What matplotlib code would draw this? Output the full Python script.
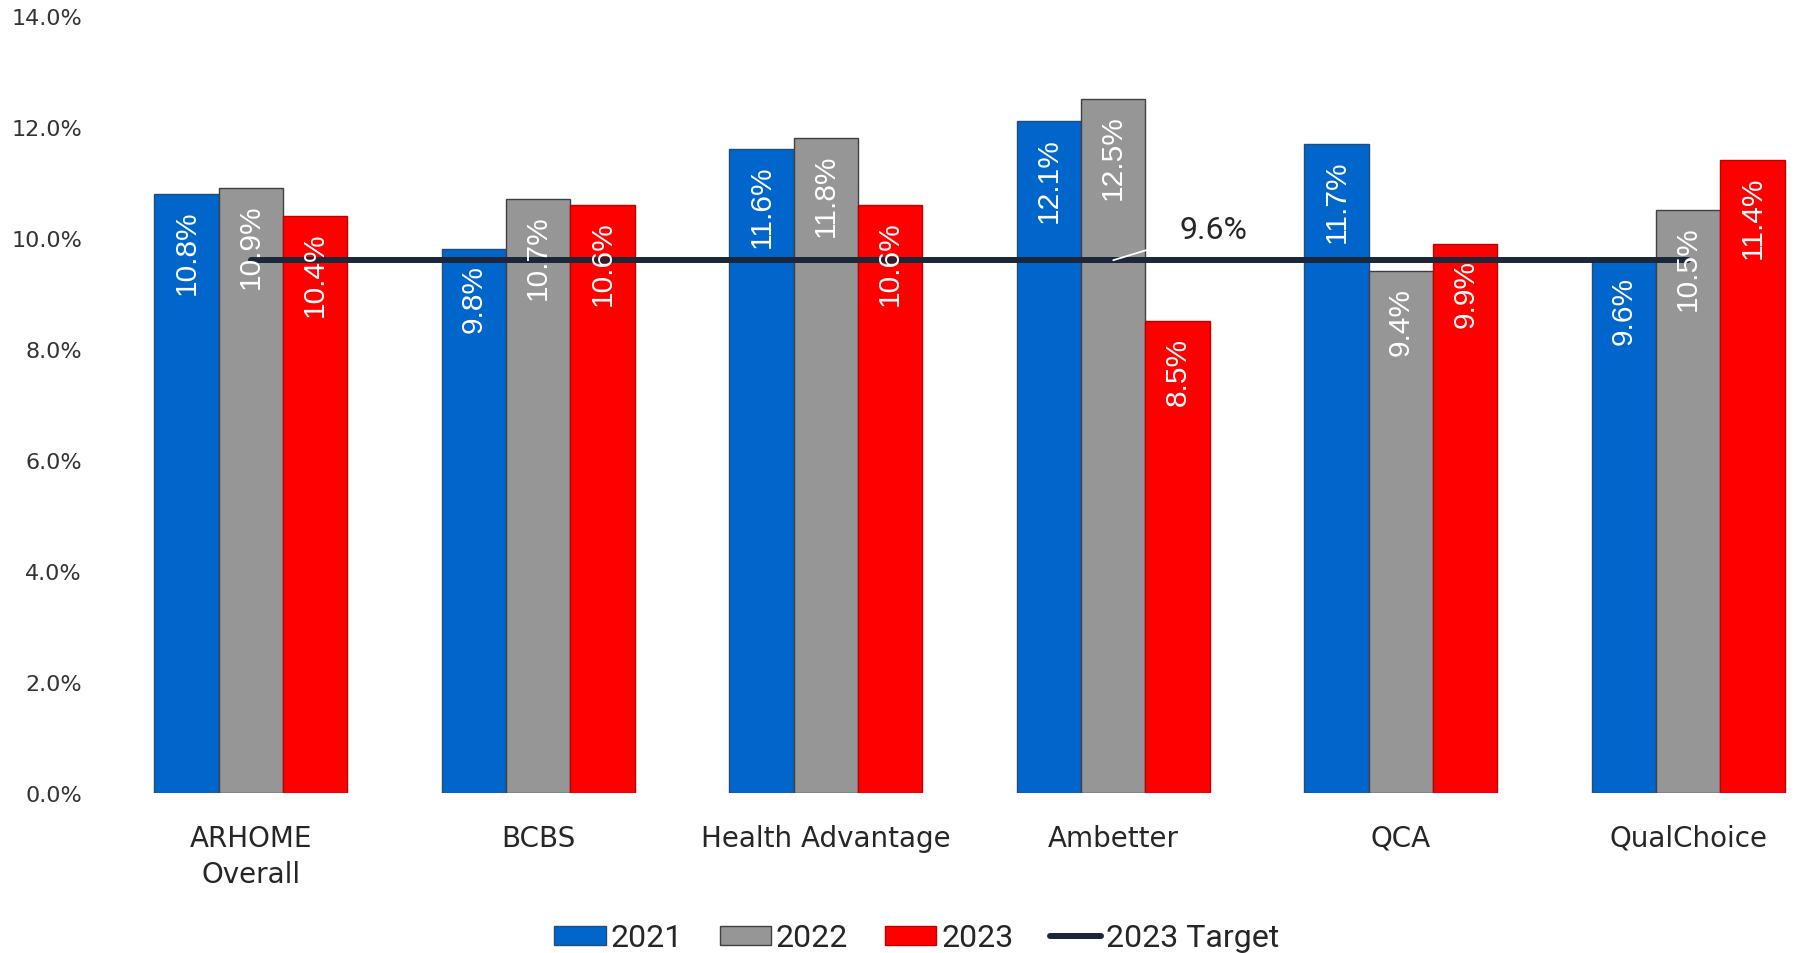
"""Rate by carrier, 2021-2023, against the 2023 target."""

import matplotlib

matplotlib.use("Agg")
import matplotlib.pyplot as plt  # noqa: E402
import numpy as np  # noqa: E402
from matplotlib.lines import Line2D  # noqa: E402
from matplotlib.patches import Patch  # noqa: E402

CATEGORIES = ["ARHOME\nOverall", "BCBS", "Health Advantage", "Ambetter", "QCA", "QualChoice"]
YEARS = ["2021", "2022", "2023"]
VALUES_2021 = [10.8, 9.8, 11.6, 12.1, 11.7, 9.6]
VALUES_2022 = [10.9, 10.7, 11.8, 12.5, 9.4, 10.5]
VALUES_2023 = [10.4, 10.6, 10.6, 8.5, 9.9, 11.4]
TARGET_2023 = [9.6, 9.6, 9.6, 9.6, 9.6, 9.6]
Y_TICKS = [0, 2, 4, 6, 8, 10, 12, 14]

FILL = ["#0066CC", "#969696", "#FF0000"]
EDGE = ["#1F4E79", "#404040", "#C00000"]
TARGET_COLOR = "#1B2638"
TEXT = "#262626"

W, H, DPI = 1795, 954, 100


def main():
    fig = plt.figure(figsize=(W / DPI, H / DPI), dpi=DPI)
    ax = fig.add_axes([107 / W, 1 - 794 / H, 1 - 107 / W, (794 - 17) / H])

    x = np.arange(len(CATEGORIES))
    width = 0.2243
    series = [VALUES_2021, VALUES_2022, VALUES_2023]
    for i, vals in enumerate(series):
        xs = x + (i - 1) * width
        ax.bar(xs, vals, width, color=FILL[i], edgecolor=EDGE[i], linewidth=1.0, zorder=2)
        for xi, v in zip(xs, vals):
            ax.annotate(f"{v:.1f}%", (xi, v), xytext=(0, -11), textcoords="offset points",
                        rotation=90, ha="center", va="top", color="white",
                        fontsize=21.5, family="Liberation Sans", zorder=4)

    ax.plot(x, TARGET_2023, color=TARGET_COLOR, linewidth=4.3,
            solid_capstyle="round", zorder=3)
    # data label for the target, with a white leader line
    ax.annotate(f"{TARGET_2023[3]:.1f}%", (x[3], TARGET_2023[3]), xytext=(3.35, 10.15),
                textcoords="data", ha="center", va="center", fontsize=23,
                family="Roboto", color=TEXT, zorder=5,
                arrowprops=dict(arrowstyle="-", color="white", lw=1.3,
                                shrinkA=14, shrinkB=0))

    ax.set_xlim(-0.5, -0.5 + (W - 107) / 287.5)
    ax.set_ylim(0, 14)
    ax.set_yticks(Y_TICKS)
    ax.set_yticklabels([f"{t:.1f}%" for t in Y_TICKS], fontsize=16,
                       family="DejaVu Sans", color="#333333")
    ax.set_xticks(x)
    ax.set_xticklabels(CATEGORIES, fontsize=20, family="DejaVu Sans", color=TEXT,
                       linespacing=1.4)
    ax.tick_params(axis="y", length=0, pad=18)
    ax.tick_params(axis="x", length=0, pad=22)
    for s in ax.spines.values():
        s.set_visible(False)

    handles = [Patch(facecolor=FILL[i], edgecolor=EDGE[i], linewidth=1.0) for i in range(3)]
    handles.append(Line2D([], [], color=TARGET_COLOR, linewidth=4.3, solid_capstyle="round"))
    labels = YEARS + ["2023 Target"]
    leg = fig.legend(handles, labels, loc="center", bbox_to_anchor=(917 / W, 1 - 939 / H),
                     ncol=4, frameon=False, prop={"family": "Roboto", "size": 23},
                     handlelength=1.6, handleheight=0.55, handletextpad=0.16,
                     columnspacing=1.15, borderpad=0)
    for t in leg.get_texts():
        t.set_color(TEXT)

    fig.savefig("out.png", dpi=DPI)
    plt.close(fig)


if __name__ == "__main__":
    main()
